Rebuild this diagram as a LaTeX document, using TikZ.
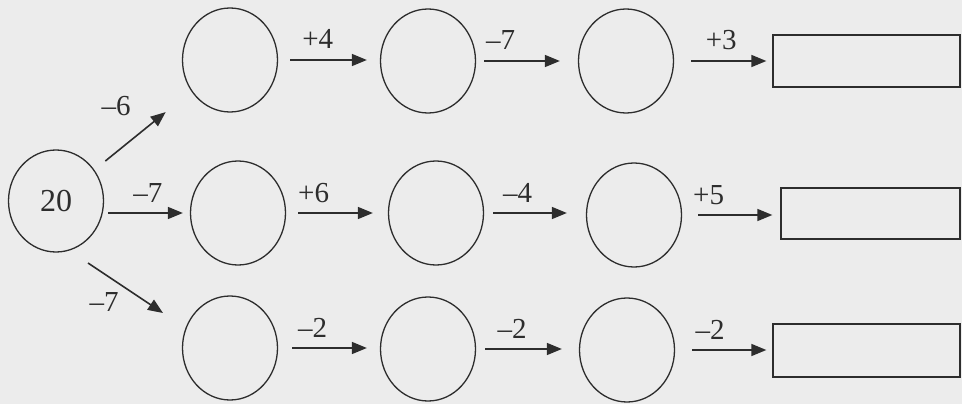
\documentclass[tikz,border=0pt]{standalone}
\usepackage{fontspec}
\setmainfont{Liberation Serif}
\usetikzlibrary{shapes.geometric,arrows.meta}
\definecolor{bg}{RGB}{236,236,236}
\definecolor{ink}{RGB}{45,45,45}
\begin{document}
\begin{tikzpicture}[x=1pt,y=-1pt,
  ov/.style={ellipse,draw=ink,line width=1.3pt,minimum width=95pt,minimum height=104pt,inner sep=0pt},
  bx/.style={rectangle,draw=ink,line width=1.3pt,inner sep=0pt},
  arr/.style={draw=ink,line width=1.6pt,-{Triangle[length=15pt,width=12pt]}},
  lbl/.style={font=\fontsize{29}{32}\selectfont,text=ink,anchor=base,inner sep=0pt,yshift=11pt}]
\fill[bg] (0,0) rectangle (962,404);
\useasboundingbox (0,0) rectangle (962,404);
% nodes
\node[ov,minimum height=102pt,font=\fontsize{32}{35}\selectfont,text=ink] (n20) at (56,201) {20};
\node[ov] (c1) at (230,60) {};
\node[ov] (c2) at (428,61) {};
\node[ov] (c3) at (626,61) {};
\node[ov] (c4) at (238,213) {};
\node[ov] (c5) at (436,213) {};
\node[ov] (c6) at (634,215) {};
\node[ov] (c7) at (230,348) {};
\node[ov] (c8) at (428,349) {};
\node[ov] (c9) at (627,350) {};
\node[bx,minimum width=187pt,minimum height=52pt] (r1) at (866.5,61) {};
\node[bx,minimum width=179pt,minimum height=51pt] (r2) at (870.5,213.5) {};
\node[bx,minimum width=187pt,minimum height=53pt] (r3) at (866.5,350.5) {};
% top row
\draw[arr,shorten <=12pt,shorten >=13pt] (c1.east) -- (c1.east -| c2.west) node[lbl,pos=.39]{+4};
\draw[arr,shorten <=8pt,shorten >=18pt] (c2.east) -- (c2.east -| c3.west) node[lbl,pos=.24]{–7};
\draw[arr,shorten <=17pt,shorten >=6pt] (c3.east) -- (c3.east -| r1.west) node[lbl,pos=.48]{+3};
% middle row
\draw[arr,shorten <=4pt,shorten >=7pt] (n20.east |- c4.west) -- (c4.west) node[lbl,pos=.51]{–7};
\draw[arr,shorten <=12pt,shorten >=15pt] (c4.east) -- (c4.east -| c5.west) node[lbl,pos=.27]{+6};
\draw[arr,shorten <=9pt,shorten >=19pt] (c5.east) -- (c5.east -| c6.west) node[lbl,pos=.33]{–4};
\draw[arr,shorten <=16pt,shorten >=8pt] (c6.east) -- (c6.east -| r2.west) node[lbl,pos=.27]{+5};
% bottom row
\draw[arr,shorten <=14pt,shorten >=13pt] (c7.east) -- (c7.east -| c8.west) node[lbl,pos=.34]{–2};
\draw[arr,shorten <=9pt,shorten >=17pt] (c8.east) -- (c8.east -| c9.west) node[lbl,pos=.35]{–2};
\draw[arr,shorten <=17pt,shorten >=6pt] (c9.east) -- (c9.east -| r3.west) node[lbl,pos=.36]{–2};
% diagonals
\draw[arr,shorten <=14pt,shorten >=33pt] (n20) -- (c1);
\node[lbl,yshift=0pt] (lm6) at (116,127) {–6};
\coordinate (d3s) at ([shift={(32,62)}]n20.center);
\coordinate (d3e) at ([shift={(-67,-35)}]c7.center);
\draw[arr] (d3s) -- (d3e);
\node[lbl,yshift=0pt] (lm7) at (104,322) {–7};
\end{tikzpicture}
\end{document}
